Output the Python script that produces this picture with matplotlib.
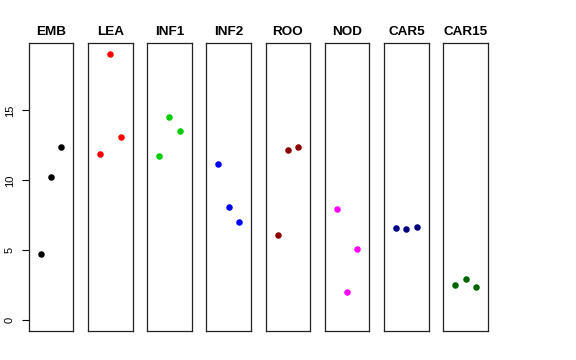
import matplotlib
matplotlib.use('Agg')
import matplotlib.pyplot as plt

plt.rcParams['font.family'] = ['Liberation Sans', 'DejaVu Sans']

groups = ['EMB', 'LEA', 'INF1', 'INF2', 'ROO', 'NOD', 'CAR5', 'CAR15']
colors = ['#000000', '#FF0000', '#00CD00', '#0000FF', '#8B0000', '#FF00FF', '#000080', '#006400']
positions = [1, 2, 3]
values = [
    [4.76, 10.21, 12.36],
    [11.88, 19.05, 13.11],
    [11.76, 14.50, 13.55],
    [11.19, 8.12, 7.00],
    [6.12, 12.17, 12.38],
    [7.93, 2.05, 5.07],
    [6.57, 6.50, 6.64],
    [2.55, 2.97, 2.40],
]

W, H = 576, 360
fig = plt.figure(figsize=(W / 100, H / 100), dpi=100)

ymax = max(max(v) for v in values)
yext = 0.04 * ymax

for i, (name, col, vals) in enumerate(zip(groups, colors, values)):
    left = 28.7 + 59.23 * i
    ax = fig.add_axes([left / W, 29 / H, 44.6 / W, 288 / H])
    ax.scatter(positions, vals, s=22, color=col, linewidths=0, zorder=3)
    ax.set_xlim(-0.16, 4.16)
    ax.set_ylim(-yext, ymax + yext)
    ax.set_xticks([])
    for sp in ax.spines.values():
        sp.set_linewidth(0.9)
        sp.set_color('#222222')
    ax.set_title(name, fontsize=9.7, fontweight='bold', pad=6)
    if i == 0:
        ax.set_yticks([0, 5, 10, 15])
        ax.tick_params(axis='y', length=5, width=0.8, labelsize=8, pad=5)
        for lab in ax.get_yticklabels():
            lab.set_rotation(90)
            lab.set_va('center')
    else:
        ax.set_yticks([])

fig.savefig('out.png', dpi=100)
